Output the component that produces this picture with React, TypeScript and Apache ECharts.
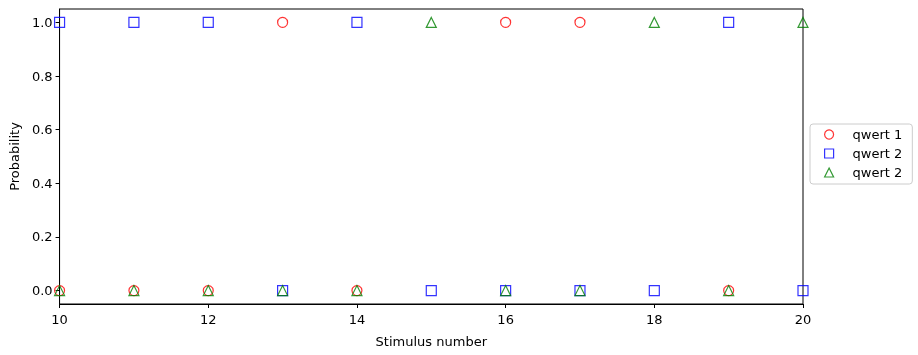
import React, { useEffect, useRef } from "react";
import * as echarts from "echarts";

const stimulus = [10, 11, 12, 13, 14, 15, 16, 17, 18, 19, 20];
const qwert1 = [0, 0, 0, 1, 0, null, 1, 1, null, 0, null];
const qwert2a = [1, 1, 1, 0, 1, 0, 0, 0, 0, 1, 0];
const qwert2b = [0, 0, 0, 0, 0, 1, 0, 0, 1, 0, 1];
const yTicks = [0, 0.2, 0.4, 0.6, 0.8, 1.0];
const seriesLabels = ["qwert 1", "qwert 2", "qwert 2"];

const FONT = "DejaVu Sans";

export default function App() {
  const ref = useRef<HTMLDivElement>(null);
  useEffect(() => {
    if (!ref.current) return;
    const chart = echarts.init(ref.current, undefined, { renderer: "svg" });
    const toPairs = (arr: (number | null)[]) =>
      stimulus.map((x, i) => [x, arr[i]]).filter((p) => p[1] !== null);
    const ids = ["s1", "s2", "s3"];
    const mk = (id: string, data: (number | null)[], color: string, symbol: string, size: number) => ({
      name: id,
      type: "scatter",
      data: toPairs(data),
      symbol,
      symbolSize: size,
      clip: true,
      itemStyle: { color: "rgba(0,0,0,0)", borderColor: color, borderWidth: 1.2 },
      emphasis: { disabled: true },
    });
    chart.setOption({
      animation: false,
      textStyle: { fontFamily: FONT },
      grid: {
        left: 55,
        right: 115,
        top: 9,
        bottom: 51,
        show: true,
        borderColor: "#000",
        borderWidth: 1,
        backgroundColor: "transparent",
      },
      xAxis: {
        type: "value",
        min: 10,
        max: 20,
        interval: 2,
        name: "Stimulus number",
        nameLocation: "middle",
        nameGap: 31,
        nameTextStyle: { color: "#000", fontSize: 13, fontFamily: FONT },
        axisLine: { show: true, onZero: false, lineStyle: { color: "#000", width: 1 } },
        axisTick: { show: true, length: 4, lineStyle: { color: "#000" } },
        axisLabel: { color: "#000", fontSize: 13, fontFamily: FONT, margin: 9 },
        splitLine: { show: false },
      },
      yAxis: {
        type: "value",
        min: -0.05,
        max: 1.05,
        name: "Probability",
        nameLocation: "middle",
        nameGap: 38,
        nameTextStyle: { color: "#000", fontSize: 13, fontFamily: FONT },
        axisLine: { show: true, onZero: false, lineStyle: { color: "#000", width: 1 } },
        axisTick: { show: true, length: 4, lineStyle: { color: "#000" }, customValues: yTicks },
        axisLabel: {
          color: "#000",
          fontSize: 13,
          fontFamily: FONT,
          margin: 7,
          customValues: yTicks,
          formatter: (v: number) => v.toFixed(1),
        },
        splitLine: { show: false },
      },
      legend: {
        orient: "vertical",
        left: 810,
        top: 124,
        itemWidth: 9,
        itemHeight: 9,
        itemGap: 6,
        padding: [4, 10, 5, 14],
        borderColor: "#ccc",
        borderWidth: 1,
        borderRadius: 3,
        itemStyle: { borderWidth: 1.2 },
        textStyle: { color: "#000", fontSize: 13, fontFamily: FONT, padding: [0, 0, 0, 14] },
        data: [
          { name: "s1", icon: "circle" },
          { name: "s2", icon: "rect" },
          { name: "s3", icon: "triangle" },
        ],
        formatter: (n: string) => seriesLabels[ids.indexOf(n)],
      },
      series: [
        mk("s1", qwert1, "#ff0000", "circle", 10),
        mk("s2", qwert2a, "#0000ff", "rect", 10),
        mk("s3", qwert2b, "#008000", "triangle", 10),
      ],
    });
    return () => chart.dispose();
  }, []);
  return <div ref={ref} style={{ position: "fixed", left: 0, top: 0, width: 918, height: 355 }} />;
}
